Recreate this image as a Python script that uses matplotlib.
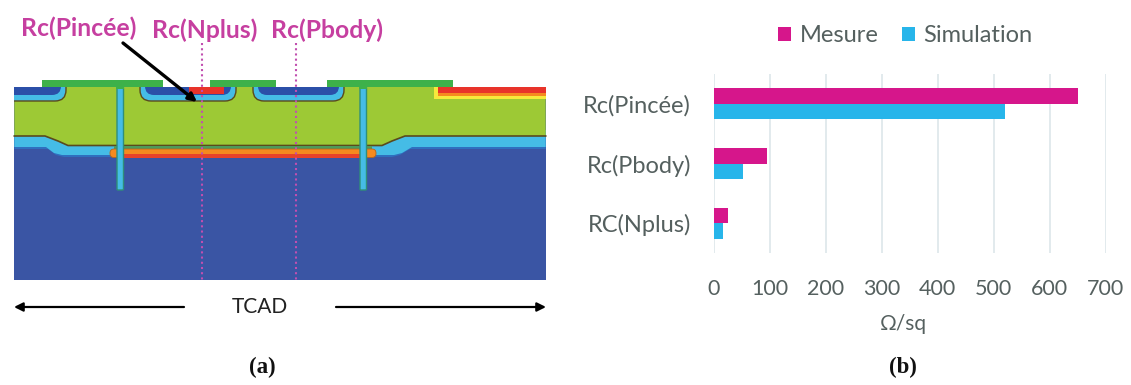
import matplotlib
matplotlib.use("Agg")
import matplotlib.pyplot as plt
from matplotlib.patches import Rectangle, FancyBboxPatch

plt.rcParams['font.family'] = ['Lato', 'DejaVu Sans']

categories = ["RC(Nplus)", "Rc(Pbody)", "Rc(Pincée)"]
mesure = [25, 95, 650]
simulation = [17, 53, 520]
x_ticks = [0, 100, 200, 300, 400, 500, 600, 700]

W, H = 1131, 385
GREEN = "#9DC935"
BLUE = "#3A55A4"
CYAN = "#45BCE6"
PLATE = "#3DB14A"
PINK = "#C63FA0"
GREY = "#55605F"

fig = plt.figure(figsize=(W / 100, H / 100), dpi=100)

# left panel, drawn in picture pixels
bg = fig.add_axes([0, 0, 1, 1])
bg.set_xlim(0, W)
bg.set_ylim(H, 0)
bg.axis("off")

L, R, TOP, BOT = 14.3, 545.7, 87, 279.5
device = Rectangle((L, TOP), R - L, BOT - TOP, fc=BLUE, ec="none", zorder=1)
bg.add_patch(device)

# cyan layer and green layer, with the step in the middle
bg.fill([L, 48, 56, 64, 392, 400, 410, R, R, L],
        [149, 149, 155, 157, 157, 155, 149, 149, 130, 130],
        fc="#2F6FBF", ec="none", zorder=2)
bg.fill([L, 46, 54, 62, 394, 402, 412, R, R, L],
        [147, 147, 153, 155, 155, 153, 147, 147, 130, 130],
        fc=CYAN, ec="none", zorder=2)
bg.fill([L, R, R, 405, 392, 382, 68, 58, 45, L],
        [TOP, TOP, 136, 136, 141, 145.5, 145.5, 141, 136, 136],
        fc=GREEN, ec="none", zorder=3)
bg.plot([L, 45, 58, 68, 382, 392, 405, R], [136, 136, 141, 145.5, 145.5, 141, 136, 136],
        color="#5A4A1E", lw=1.2, zorder=4)

# orange buried bar
bg.add_patch(Rectangle((114, 146), 258, 3, fc="#4E9A5A", ec="none", zorder=5))
bg.add_patch(FancyBboxPatch((110, 149), 266, 8.5, boxstyle="round,pad=0,rounding_size=4",
                            fc="#F58A1F", ec="#B5651D", lw=0.6, zorder=5))
bg.add_patch(Rectangle((117, 153.5), 250, 4, fc="#E8432A", ec="none", zorder=5))

# wells
for x0, x1 in [(-10, 66), (140, 236), (253, 344)]:
    outer = FancyBboxPatch((x0, 70), x1 - x0, 31, boxstyle="round,pad=0,rounding_size=11",
                           fc=CYAN, ec="#5A4A1E", lw=1, zorder=6)
    inner = FancyBboxPatch((x0 + 5, 70), x1 - x0 - 10, 25, boxstyle="round,pad=0,rounding_size=9",
                           fc="#2B4FA8", ec="none", zorder=7)
    bg.add_patch(outer)
    bg.add_patch(inner)
    outer.set_clip_path(device)
    inner.set_clip_path(device)

# hot spots
bg.add_patch(Rectangle((189, 87), 35, 6.5, fc="#E8332A", ec="none", zorder=8))
bg.add_patch(Rectangle((434, 87), R - 434, 11.5, fc="#F7E93C", ec="none", zorder=8))
bg.add_patch(Rectangle((437.5, 87), R - 437.5, 9, fc="#F58A1F", ec="none", zorder=9))
bg.add_patch(Rectangle((437.5, 87), R - 437.5, 6, fc="#E8332A", ec="none", zorder=9))

# trenches
for x0 in [117, 360]:
    bg.add_patch(FancyBboxPatch((x0, 87), 6.5, 103, boxstyle="round,pad=0,rounding_size=1",
                                fc=CYAN, ec="#2F8F7A", lw=1, zorder=10))

# contact plates
for x0, x1 in [(42, 163), (210, 276), (327, 453)]:
    bg.add_patch(Rectangle((x0, 80), x1 - x0, 7.3, fc=PLATE, ec="none", zorder=11))
for x0 in [117, 360]:
    bg.add_patch(Rectangle((x0 - 1, 86), 8, 3, fc=PLATE, ec="none", zorder=11))

# cut lines and labels
for x in [202, 295.7]:
    bg.plot([x, x], [43, BOT], color="#C14FB0", lw=1.5, ls=(0, (1, 1.5)), zorder=12)
bg.annotate("", xy=(197, 102), xytext=(123, 43), zorder=13,
            arrowprops=dict(arrowstyle="-|>", color="black", lw=2.4, mutation_scale=12,
                            shrinkA=0, shrinkB=0))
for label, x, y in [("Rc(Pincée)", 78.5, 28), ("Rc(Nplus)", 205, 30), ("Rc(Pbody)", 327, 30)]:
    bg.text(x, y, label, color=PINK, fontsize=17.8, fontweight="bold", ha="center", va="center")

# TCAD extent
for x0, x1 in [(184, 14), (336, 546)]:
    bg.annotate("", xy=(x1, 307), xytext=(x0, 307),
                arrowprops=dict(arrowstyle="-|>", color="black", lw=1.6, mutation_scale=13,
                                shrinkA=0, shrinkB=0))
bg.text(260, 307, "TCAD", color="#222222", fontsize=15, ha="center", va="center")

bg.text(262, 367, "(a)", family="Liberation Serif", fontweight="bold", fontsize=16.5,
        ha="center", va="center", color="#111111")
bg.text(903, 367, "(b)", family="Liberation Serif", fontweight="bold", fontsize=16.5,
        ha="center", va="center", color="#111111")

# right panel, the bar chart
ax = fig.add_axes([713.8 / W, 1 - 253 / H, (1105.5 - 713.8) / W, (253 - 74) / H])
ax.patch.set_alpha(0)
pos = list(range(len(categories)))
bar_h = 0.26
ax.barh([p + bar_h / 2 for p in pos], mesure, height=bar_h, color="#D6168B", label="Mesure", zorder=3)
ax.barh([p - bar_h / 2 for p in pos], simulation, height=bar_h, color="#27B5EA", label="Simulation", zorder=3)
ax.set_xlim(0, 700)
ax.set_ylim(-0.5, 2.5)
ax.set_xticks(x_ticks)
ax.set_yticks(pos, categories)
ax.grid(axis="x", color="#DDE6EA", lw=1.2, zorder=0)
ax.tick_params(length=0, labelcolor=GREY)
ax.tick_params(axis="x", labelsize=15.5, pad=19)
ax.tick_params(axis="y", labelsize=17, pad=16.5)
for s in ax.spines.values():
    s.set_visible(False)
ax.set_xlabel("Ω/sq", fontsize=15, color=GREY, labelpad=10.5, x=0.485)
ax.legend(loc="center", bbox_to_anchor=(905.5 / W, 1 - 36 / H), bbox_transform=fig.transFigure,
          ncol=2, frameon=False, fontsize=17, labelcolor=GREY, handlelength=0.55, handleheight=0.55,
          handletextpad=0.36, columnspacing=1.0, borderpad=0)

fig.savefig("out.png", dpi=100)
